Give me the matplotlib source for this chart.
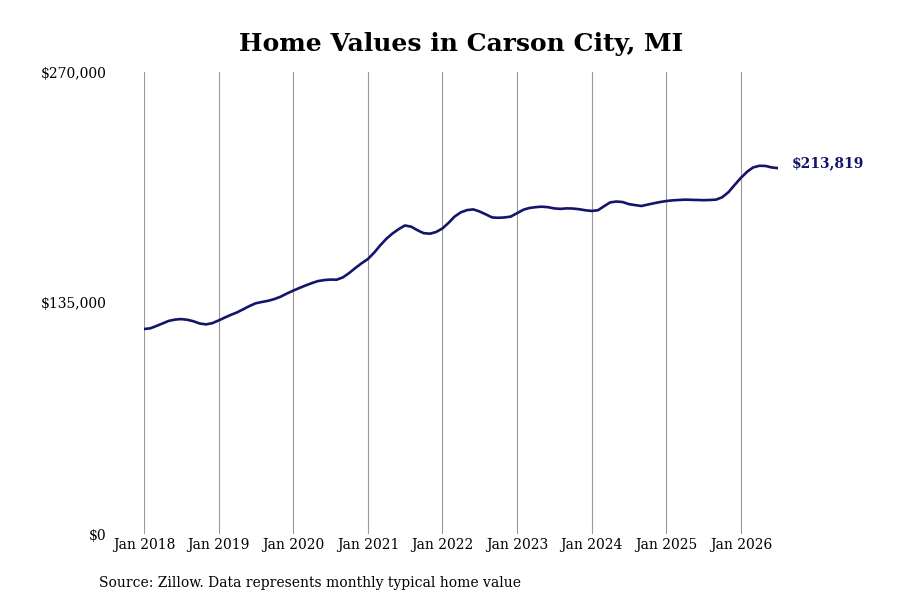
import numpy as np
import pandas as pd
import matplotlib
matplotlib.use("Agg")
import matplotlib.pyplot as plt

# monthly typical home value, Jan 2018 - Jul 2026
values = [
    119800, 120200, 121500, 123000, 124500, 125300, 125600, 125200, 124300, 123000, 122500, 123200,
    124800, 126500, 128000, 129500, 131300, 133200, 134800, 135600, 136300, 137300, 138700, 140500,
    142200, 143800, 145200, 146600, 147800, 148400, 148700, 148600, 150000, 152500, 155500, 158200,
    160700, 164500, 168500, 172500, 175600, 178200, 180300, 179600, 177500, 175800, 175500, 176500,
    178600, 182000, 185500, 188000, 189300, 189700, 188500, 186800, 185000, 184800, 185000, 185500,
    187500, 189500, 190500, 191000, 191300, 191000, 190300, 190000, 190300, 190200, 189800, 189200,
    188800, 189200, 191500, 193800, 194300, 194000, 192800, 192200, 191700, 192500, 193300, 194000,
    194600, 195000, 195200, 195400, 195300, 195200, 195100, 195200, 195400, 196800, 199800, 204000,
    208200, 211800, 214200, 215200, 215100, 214200, 213819,
]
dates = pd.date_range("2018-01-01", periods=len(values), freq="MS")
tick_dates = pd.date_range("2018-01-01", "2026-01-01", freq="YS")
tick_labels = [d.strftime("Jan %Y") for d in tick_dates]
y_ticks = [0, 135000, 270000]
y_labels = ["$0", "$135,000", "$270,000"]

line_color = "#14146b"
plt.rcParams["font.family"] = ["DejaVu Serif"]

fig = plt.figure(figsize=(9, 6), dpi=100)
ax = fig.add_axes([0.16, 0.11, 0.7044, 0.77])

ax.plot(dates, values, color=line_color, lw=1.9, solid_capstyle="round")

ax.set_xlim(dates[0], dates[-1])
ax.set_ylim(0, 270000)
ax.set_xticks(tick_dates)
ax.set_xticklabels(tick_labels, fontsize=10)
ax.set_yticks(y_ticks)
ax.set_yticklabels(y_labels, fontsize=10)
ax.tick_params(axis="x", length=0, pad=3)
ax.tick_params(axis="y", length=0, pad=27)
ax.grid(axis="x", color="#999999", lw=0.8)
ax.grid(axis="y", visible=False)
for s in ax.spines.values():
    s.set_visible(False)

ax.set_title("Home Values in Carson City, MI", fontsize=18, fontweight="bold", pad=15)

ax.annotate(f"${values[-1]:,}", xy=(dates[-1], values[-1]), xytext=(10, 3.5),
            textcoords="offset points", fontsize=10, fontweight="bold",
            color=line_color, va="center", ha="left", annotation_clip=False)

fig.text(0.11, 0.022, "Source: Zillow. Data represents monthly typical home value", fontsize=10)

fig.savefig("out.png", dpi=100)
